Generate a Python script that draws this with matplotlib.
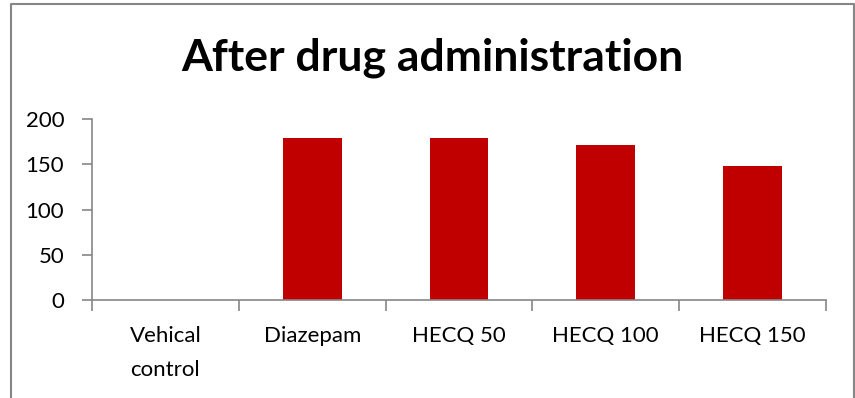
import matplotlib
matplotlib.use('Agg')
import matplotlib.pyplot as plt
from matplotlib.lines import Line2D

# daten
categories = ['Vehical\ncontrol', 'Diazepam', 'HECQ 50', 'HECQ 100', 'HECQ 150']
values = [0, 179, 178.5, 171.5, 148]
y_ticks = [0, 50, 100, 150, 200]
title = 'After drug administration'

plt.rcParams['font.family'] = ['Lato', 'DejaVu Sans']

W, H = 855, 398
fig = plt.figure(figsize=(W / 100, H / 100), dpi=100)
ax = fig.add_axes([92 / W, (H - 300) / H, (826 - 92) / W, (300 - 119) / H])

ax.bar(range(len(values)), values, width=0.4, color='#c00000')
ax.set_xlim(-0.5, len(values) - 0.5)
ax.set_ylim(0, 200)
ax.set_yticks(y_ticks)

ax.set_xticks(range(len(categories)))
ax.set_xticklabels(categories, fontsize=16, linespacing=1.85, va='top')
ax.set_xticks([i - 0.5 for i in range(len(categories) + 1)], minor=True)
ax.tick_params(axis='x', which='major', length=0, pad=19)
ax.tick_params(axis='x', which='minor', length=8, width=1.2, color='#868686', direction='out')
ax.tick_params(axis='y', length=7, width=1.2, color='#868686', direction='out', labelsize=16, pad=13)

for s in ['top', 'right']:
    ax.spines[s].set_visible(False)
for s in ['left', 'bottom']:
    ax.spines[s].set_color('#868686')
    ax.spines[s].set_linewidth(1.2)

fig.text(432 / W, (H - 58) / H, title, ha='center', va='center', fontsize=32, fontweight='bold')

# rahmen (unten abgeschnitten)
fx = [10.5 / W, 10.5 / W, 853.5 / W, 853.5 / W]
fy = [0, (H - 3.5) / H, (H - 3.5) / H, 0]
fig.add_artist(Line2D(fx, fy, color='#868686', linewidth=1.5, transform=fig.transFigure))

fig.savefig('out.png', dpi=100)
